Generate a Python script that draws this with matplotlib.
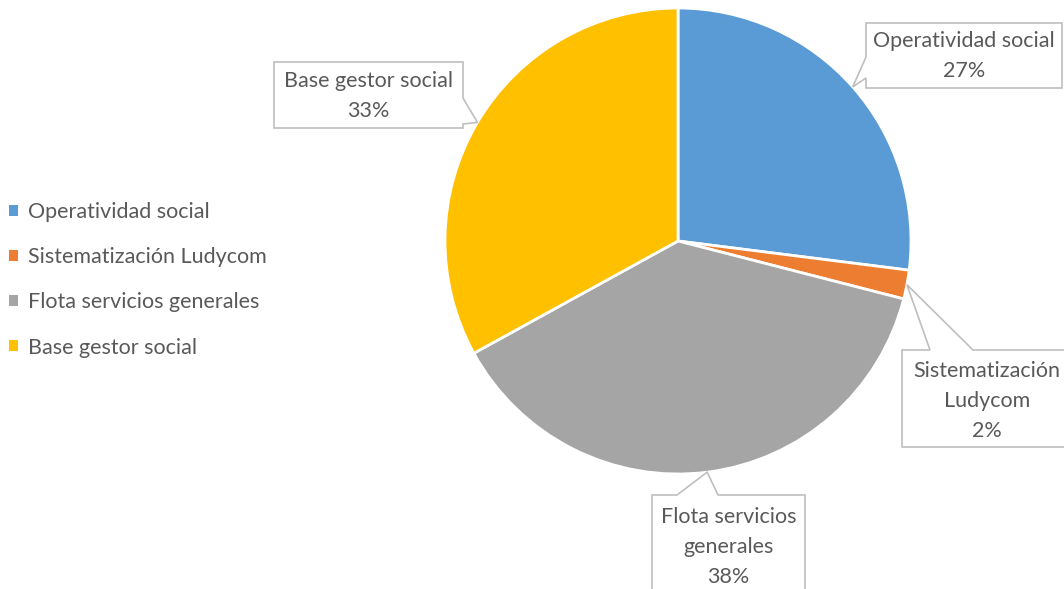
import numpy as np
import matplotlib
matplotlib.use("Agg")
import matplotlib.pyplot as plt
from matplotlib.patches import Polygon

# data
labels = ["Operatividad social", "Sistematización Ludycom",
          "Flota servicios generales", "Base gestor social"]
callout_text = ["Operatividad social", "Sistematización\nLudycom",
                "Flota servicios\ngenerales", "Base gestor social"]
values = [27, 2, 38, 33]
colors = ["#5B9BD5", "#ED7D31", "#A5A5A5", "#FFC000"]

W, H = 1064, 589
TEXT = "#595959"
plt.rcParams["font.family"] = ["Lato", "DejaVu Sans"]
FS = 15.5

fig = plt.figure(figsize=(W / 100, H / 100), dpi=100)
ax = fig.add_axes([0, 0, 1, 1])

cx, cy, R = 678, H - 241, 233
wedges, _ = ax.pie(values, colors=colors, startangle=90, counterclock=False,
                   radius=R, center=(cx, cy), frame=True,
                   wedgeprops=dict(edgecolor="white", linewidth=2))
ax.set_xlim(0, W)
ax.set_ylim(0, H)
ax.set_aspect("auto")
ax.axis("off")

# callout boxes: (left, top, right, bottom) in screen px, side, notch a-b, text center y
boxes = [
    ((866, 23, 1062, 88), "left", (57, 78), 56),
    ((902, 350, 1072, 447), "top", (930, 973), 401),
    ((652, 495, 805, 620), "top", (677, 718), 547),
    ((274, 62, 463, 128), "right", (98, 124), 96),
]

total = sum(values)
start = 90.0
for i, (box, side, (a, b), ty_text) in enumerate(boxes):
    span = values[i] / total * 360
    mid = np.radians(start - span / 2)
    start -= span
    tx, ty = cx + R * np.cos(mid), cy + R * np.sin(mid)
    l, t, r, bt = box
    t, bt = H - t, H - bt
    pts = [(l, t)]
    if side == "top":
        pts += [(a, t), (tx, ty), (b, t)]
    pts += [(r, t)]
    if side == "right":
        pts += [(r, H - a), (tx, ty), (r, H - b)]
    pts += [(r, bt), (l, bt)]
    if side == "left":
        pts += [(l, H - b), (tx, ty), (l, H - a)]
    ax.add_patch(Polygon(pts, closed=True, facecolor="white",
                         edgecolor="#BFBFBF", linewidth=1.2, zorder=5))
    ax.text((l + r) / 2, H - ty_text, f"{callout_text[i]}\n{values[i]}%",
            ha="center", va="center", fontsize=FS, color=TEXT,
            linespacing=1.65, zorder=6)

leg = ax.legend(wedges, labels, loc="upper left",
                bbox_to_anchor=(9 / W, 1 - 202 / H), frameon=False,
                borderpad=0, borderaxespad=0,
                fontsize=FS, labelcolor=TEXT, handlelength=0.42,
                handleheight=0.42, handletextpad=0.45, labelspacing=1.17)
for h in leg.legend_handles:
    h.set_edgecolor("none")

fig.savefig("out.png", dpi=100)
